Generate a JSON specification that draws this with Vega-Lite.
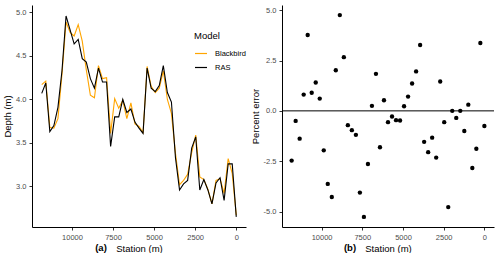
{
  "$schema": "https://vega.github.io/schema/vega-lite/v6.json",
  "background": "white",
  "padding": {"left": 2, "top": 5, "right": 3, "bottom": 0},
  "spacing": 4,
  "datasets": {
    "depth": [
      {"station": 11840, "model": "Blackbird", "depth": 4.17}, {"station": 11840, "model": "RAS", "depth": 4.07},
      {"station": 11593, "model": "Blackbird", "depth": 4.21}, {"station": 11593, "model": "RAS", "depth": 4.19},
      {"station": 11347, "model": "Blackbird", "depth": 3.68}, {"station": 11347, "model": "RAS", "depth": 3.63},
      {"station": 11100, "model": "Blackbird", "depth": 3.67}, {"station": 11100, "model": "RAS", "depth": 3.70},
      {"station": 10853, "model": "Blackbird", "depth": 3.78}, {"station": 10853, "model": "RAS", "depth": 3.91},
      {"station": 10607, "model": "Blackbird", "depth": 4.29}, {"station": 10607, "model": "RAS", "depth": 4.33},
      {"station": 10360, "model": "Blackbird", "depth": 4.89}, {"station": 10360, "model": "RAS", "depth": 4.96},
      {"station": 10113, "model": "Blackbird", "depth": 4.77}, {"station": 10113, "model": "RAS", "depth": 4.80},
      {"station": 9867, "model": "Blackbird", "depth": 4.73}, {"station": 9867, "model": "RAS", "depth": 4.64},
      {"station": 9620, "model": "Blackbird", "depth": 4.86}, {"station": 9620, "model": "RAS", "depth": 4.69},
      {"station": 9373, "model": "Blackbird", "depth": 4.67}, {"station": 9373, "model": "RAS", "depth": 4.47},
      {"station": 9127, "model": "Blackbird", "depth": 4.34}, {"station": 9127, "model": "RAS", "depth": 4.43},
      {"station": 8880, "model": "Blackbird", "depth": 4.05}, {"station": 8880, "model": "RAS", "depth": 4.24},
      {"station": 8633, "model": "Blackbird", "depth": 4.02}, {"station": 8633, "model": "RAS", "depth": 4.13},
      {"station": 8387, "model": "Blackbird", "depth": 4.39}, {"station": 8387, "model": "RAS", "depth": 4.36},
      {"station": 8140, "model": "Blackbird", "depth": 4.24}, {"station": 8140, "model": "RAS", "depth": 4.20},
      {"station": 7893, "model": "Blackbird", "depth": 4.25}, {"station": 7893, "model": "RAS", "depth": 4.20},
      {"station": 7647, "model": "Blackbird", "depth": 3.61}, {"station": 7647, "model": "RAS", "depth": 3.46},
      {"station": 7400, "model": "Blackbird", "depth": 4.01}, {"station": 7400, "model": "RAS", "depth": 3.80},
      {"station": 7153, "model": "Blackbird", "depth": 3.90}, {"station": 7153, "model": "RAS", "depth": 3.80},
      {"station": 6907, "model": "Blackbird", "depth": 3.99}, {"station": 6907, "model": "RAS", "depth": 4.00},
      {"station": 6660, "model": "Blackbird", "depth": 3.78}, {"station": 6660, "model": "RAS", "depth": 3.85},
      {"station": 6413, "model": "Blackbird", "depth": 3.96}, {"station": 6413, "model": "RAS", "depth": 3.89},
      {"station": 6167, "model": "Blackbird", "depth": 3.72}, {"station": 6167, "model": "RAS", "depth": 3.74},
      {"station": 5920, "model": "Blackbird", "depth": 3.69}, {"station": 5920, "model": "RAS", "depth": 3.67},
      {"station": 5673, "model": "Blackbird", "depth": 3.62}, {"station": 5673, "model": "RAS", "depth": 3.61},
      {"station": 5427, "model": "Blackbird", "depth": 4.38}, {"station": 5427, "model": "RAS", "depth": 4.36},
      {"station": 5180, "model": "Blackbird", "depth": 4.15}, {"station": 5180, "model": "RAS", "depth": 4.13},
      {"station": 4933, "model": "Blackbird", "depth": 4.08}, {"station": 4933, "model": "RAS", "depth": 4.09},
      {"station": 4687, "model": "Blackbird", "depth": 4.13}, {"station": 4687, "model": "RAS", "depth": 4.16},
      {"station": 4440, "model": "Blackbird", "depth": 4.33}, {"station": 4440, "model": "RAS", "depth": 4.39},
      {"station": 4193, "model": "Blackbird", "depth": 4.00}, {"station": 4193, "model": "RAS", "depth": 4.08},
      {"station": 3947, "model": "Blackbird", "depth": 3.84}, {"station": 3947, "model": "RAS", "depth": 3.97},
      {"station": 3700, "model": "Blackbird", "depth": 3.38}, {"station": 3700, "model": "RAS", "depth": 3.33},
      {"station": 3453, "model": "Blackbird", "depth": 3.02}, {"station": 3453, "model": "RAS", "depth": 2.96},
      {"station": 3207, "model": "Blackbird", "depth": 3.07}, {"station": 3207, "model": "RAS", "depth": 3.03},
      {"station": 2960, "model": "Blackbird", "depth": 3.14}, {"station": 2960, "model": "RAS", "depth": 3.07},
      {"station": 2713, "model": "Blackbird", "depth": 3.39}, {"station": 2713, "model": "RAS", "depth": 3.44},
      {"station": 2467, "model": "Blackbird", "depth": 3.59}, {"station": 2467, "model": "RAS", "depth": 3.57},
      {"station": 2220, "model": "Blackbird", "depth": 3.11}, {"station": 2220, "model": "RAS", "depth": 2.96},
      {"station": 1973, "model": "Blackbird", "depth": 3.08}, {"station": 1973, "model": "RAS", "depth": 3.08},
      {"station": 1727, "model": "Blackbird", "depth": 2.97}, {"station": 1727, "model": "RAS", "depth": 2.96},
      {"station": 1480, "model": "Blackbird", "depth": 2.80}, {"station": 1480, "model": "RAS", "depth": 2.80},
      {"station": 1233, "model": "Blackbird", "depth": 3.07}, {"station": 1233, "model": "RAS", "depth": 3.04},
      {"station": 987, "model": "Blackbird", "depth": 3.09}, {"station": 987, "model": "RAS", "depth": 3.10},
      {"station": 740, "model": "Blackbird", "depth": 2.92}, {"station": 740, "model": "RAS", "depth": 2.84},
      {"station": 493, "model": "Blackbird", "depth": 3.32}, {"station": 493, "model": "RAS", "depth": 3.26},
      {"station": 247, "model": "Blackbird", "depth": 3.15}, {"station": 247, "model": "RAS", "depth": 3.26},
      {"station": 0, "model": "Blackbird", "depth": 2.67}, {"station": 0, "model": "RAS", "depth": 2.65}
    ],
    "err": [
      {"station": 11840, "error": -2.47}, {"station": 11593, "error": -0.50}, {"station": 11347, "error": -1.38},
      {"station": 11100, "error": 0.81}, {"station": 10853, "error": 3.77}, {"station": 10607, "error": 0.90},
      {"station": 10360, "error": 1.41}, {"station": 10113, "error": 0.61}, {"station": 9867, "error": -1.96},
      {"station": 9620, "error": -3.63}, {"station": 9373, "error": -4.28}, {"station": 9127, "error": 2.02},
      {"station": 8880, "error": 4.76}, {"station": 8633, "error": 2.67}, {"station": 8387, "error": -0.71},
      {"station": 8140, "error": -0.96}, {"station": 7893, "error": -1.19}, {"station": 7647, "error": -4.06},
      {"station": 7400, "error": -5.27}, {"station": 7153, "error": -2.64}, {"station": 6907, "error": 0.25},
      {"station": 6660, "error": 1.84}, {"station": 6413, "error": -1.81}, {"station": 6167, "error": 0.53},
      {"station": 5920, "error": -0.56}, {"station": 5673, "error": -0.28}, {"station": 5427, "error": -0.46},
      {"station": 5180, "error": -0.48}, {"station": 4933, "error": 0.23}, {"station": 4687, "error": 0.71},
      {"station": 4440, "error": 1.36}, {"station": 4193, "error": 1.96}, {"station": 3947, "error": 3.27},
      {"station": 3700, "error": -1.54}, {"station": 3453, "error": -2.05}, {"station": 3207, "error": -1.33},
      {"station": 2960, "error": -2.32}, {"station": 2713, "error": 1.46}, {"station": 2467, "error": -0.56},
      {"station": 2220, "error": -4.78}, {"station": 1973, "error": 0.0}, {"station": 1727, "error": -0.35},
      {"station": 1480, "error": 0.0}, {"station": 1233, "error": -1.00}, {"station": 987, "error": 0.31},
      {"station": 740, "error": -2.84}, {"station": 493, "error": -1.88}, {"station": 247, "error": 3.37},
      {"station": 0, "error": -0.75}
    ],
    "zero": [{"y": 0}]
  },
  "hconcat": [
    {
      "width": 214,
      "height": 222,
      "data": {"name": "depth"},
      "title": {"text": "(a)", "orient": "bottom", "anchor": "middle", "dx": -38, "dy": -14, "fontSize": 9.5, "fontWeight": "bold", "color": "#000"},
      "mark": {"type": "line", "strokeWidth": 1.1},
      "encoding": {
        "x": {"field": "station", "type": "quantitative",
              "scale": {"domain": [-592, 12432], "reverse": true, "nice": false, "zero": false},
              "axis": {"title": "Station (m)", "values": [0, 2500, 5000, 7500, 10000], "format": "d"}},
        "y": {"field": "depth", "type": "quantitative",
              "scale": {"domain": [2.534, 5.086], "nice": false, "zero": false},
              "axis": {"title": "Depth (m)", "values": [3.0, 3.5, 4.0, 4.5, 5.0], "format": ".1f"}},
        "color": {"field": "model", "type": "nominal", "title": "Model",
                  "scale": {"domain": ["Blackbird", "RAS"], "range": ["#FFA500", "#000000"]},
                  "legend": {"orient": "none", "legendX": 162, "legendY": 26, "symbolType": "stroke", "symbolSize": 144, "symbolStrokeWidth": 1.2, "labelFontSize": 7.5, "labelColor": "#000", "titleFontSize": 9.5, "titleFontWeight": "normal", "titleColor": "#000", "titlePadding": 6, "rowPadding": 3, "labelOffset": 7}}
      }
    },
    {
      "width": 212,
      "height": 222,
      "title": {"text": "(b)", "orient": "bottom", "anchor": "middle", "dx": -38, "dy": -14, "fontSize": 9.5, "fontWeight": "bold", "color": "#000"},
      "layer": [
        {
          "data": {"name": "zero"},
          "mark": {"type": "rule", "color": "#000", "strokeWidth": 1},
          "encoding": {"y": {"field": "y", "type": "quantitative"}}
        },
        {
          "data": {"name": "err"},
          "mark": {"type": "circle", "size": 19, "color": "#000", "opacity": 1},
          "encoding": {
            "x": {"field": "station", "type": "quantitative",
                  "scale": {"domain": [-592, 12432], "reverse": true, "nice": false, "zero": false},
                  "axis": {"title": "Station (m)", "values": [0, 2500, 5000, 7500, 10000], "format": "d"}},
            "y": {"field": "error", "type": "quantitative",
                  "scale": {"domain": [-5.77, 5.26], "nice": false, "zero": false},
                  "axis": {"title": "Percent error", "values": [-5.0, -2.5, 0.0, 2.5, 5.0], "labelExpr": "replace(format(datum.value, '.1f'), '\u2212', '-')"}}
          }
        }
      ]
    }
  ],
  "config": {
    "font": "Liberation Sans",
    "view": {"stroke": null},
    "axis": {"grid": false, "domainColor": "#000", "domainWidth": 1, "tickColor": "#333", "tickSize": 3, "tickWidth": 1,
             "labelColor": "#4D4D4D", "labelFontSize": 7.5, "labelPadding": 3, "titleColor": "#000", "titleFontSize": 9.5,
             "titleFontWeight": "normal", "titlePadding": 3, "labelFont": "Liberation Sans", "titleFont": "Liberation Sans"}
  }
}
